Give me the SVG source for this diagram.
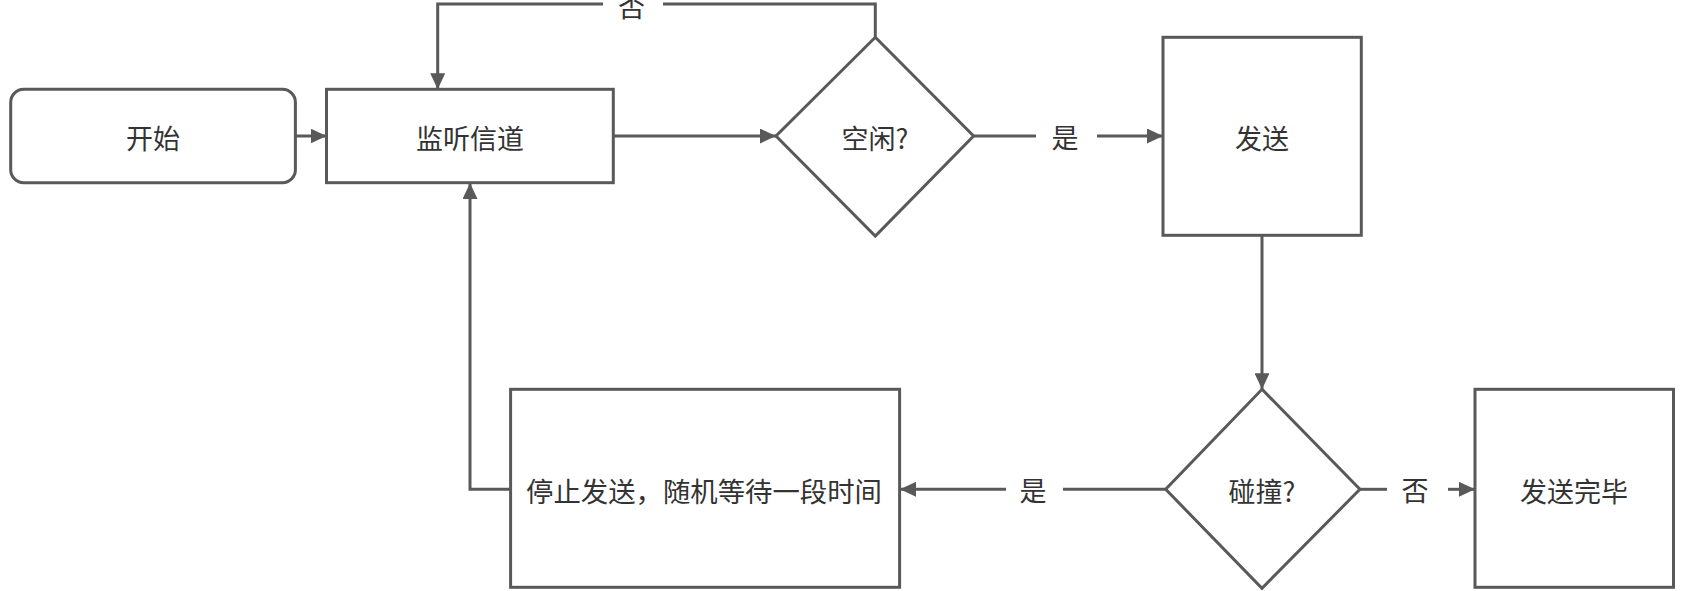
<svg xmlns="http://www.w3.org/2000/svg" width="1684" height="591" viewBox="0 0 1684 591">
<style>
.n{fill:#fff;stroke:#595959;stroke-width:3}
.c{fill:none;stroke:#595959;stroke-width:3}
.t{font-family:"Noto Sans CJK SC","Noto Sans",sans-serif;font-size:27px;fill:#333;text-anchor:middle;dominant-baseline:central}
</style>
<defs>
<marker id="ah" markerUnits="userSpaceOnUse" markerWidth="16" markerHeight="15" refX="16" refY="7.5" orient="auto">
<path d="M0,0 L16,7.5 L0,15 z" fill="#595959"/>
</marker>
</defs>
<rect width="1684" height="591" fill="#fff"/>
<g id="connectors">
<path class="c" d="M295.4,136 H326.5" marker-end="url(#ah)"/>
<path class="c" d="M613.3,136 H776" marker-end="url(#ah)"/>
<path class="c" d="M875.3,37.3 V4 H663"/>
<path class="c" d="M603,4 H437.7 V89.3" marker-end="url(#ah)"/>
<text class="t" x="631.5" y="5">否</text>
<path class="c" d="M973.6,136 H1036"/>
<path class="c" d="M1097,136 H1163" marker-end="url(#ah)"/>
<text class="t" x="1065" y="136">是</text>
<path class="c" d="M1262,235.3 V389.3" marker-end="url(#ah)"/>
<path class="c" d="M1165.7,489.3 H1063"/>
<path class="c" d="M1006,489.3 H900" marker-end="url(#ah)"/>
<text class="t" x="1033" y="489">是</text>
<path class="c" d="M1359.9,489.3 H1387"/>
<path class="c" d="M1448,489.3 H1475" marker-end="url(#ah)"/>
<text class="t" x="1415" y="489">否</text>
<path class="c" d="M510.6,489.3 H470 V183" marker-end="url(#ah)"/>
</g>
<g id="start">
<rect class="n" x="10.7" y="89.3" width="284.7" height="93.4" rx="13" ry="13"/>
<text class="t" x="153" y="137">开始</text>
</g>
<g id="listen">
<rect class="n" x="326.5" y="89.3" width="286.8" height="93.4"/>
<text class="t" x="470" y="137">监听信道</text>
</g>
<g id="idle">
<path class="n" d="M875.3,37.3 L973.6,136 L875.3,236 L776,136 z"/>
<text class="t" x="875" y="137">空闲?</text>
</g>
<g id="send">
<rect class="n" x="1163" y="37.3" width="198.3" height="198"/>
<text class="t" x="1262" y="137">发送</text>
</g>
<g id="collision">
<path class="n" d="M1262,389.3 L1359.9,489.3 L1262,588.3 L1165.7,489.3 z"/>
<text class="t" x="1262" y="490">碰撞?</text>
</g>
<g id="stop">
<rect class="n" x="510.6" y="389.3" width="389" height="198"/>
<text class="t" x="704" y="490" textLength="356" lengthAdjust="spacingAndGlyphs">停止发送，随机等待一段时间</text>
</g>
<g id="done">
<rect class="n" x="1475" y="389.3" width="198.5" height="198"/>
<text class="t" x="1574" y="490">发送完毕</text>
</g>
</svg>
